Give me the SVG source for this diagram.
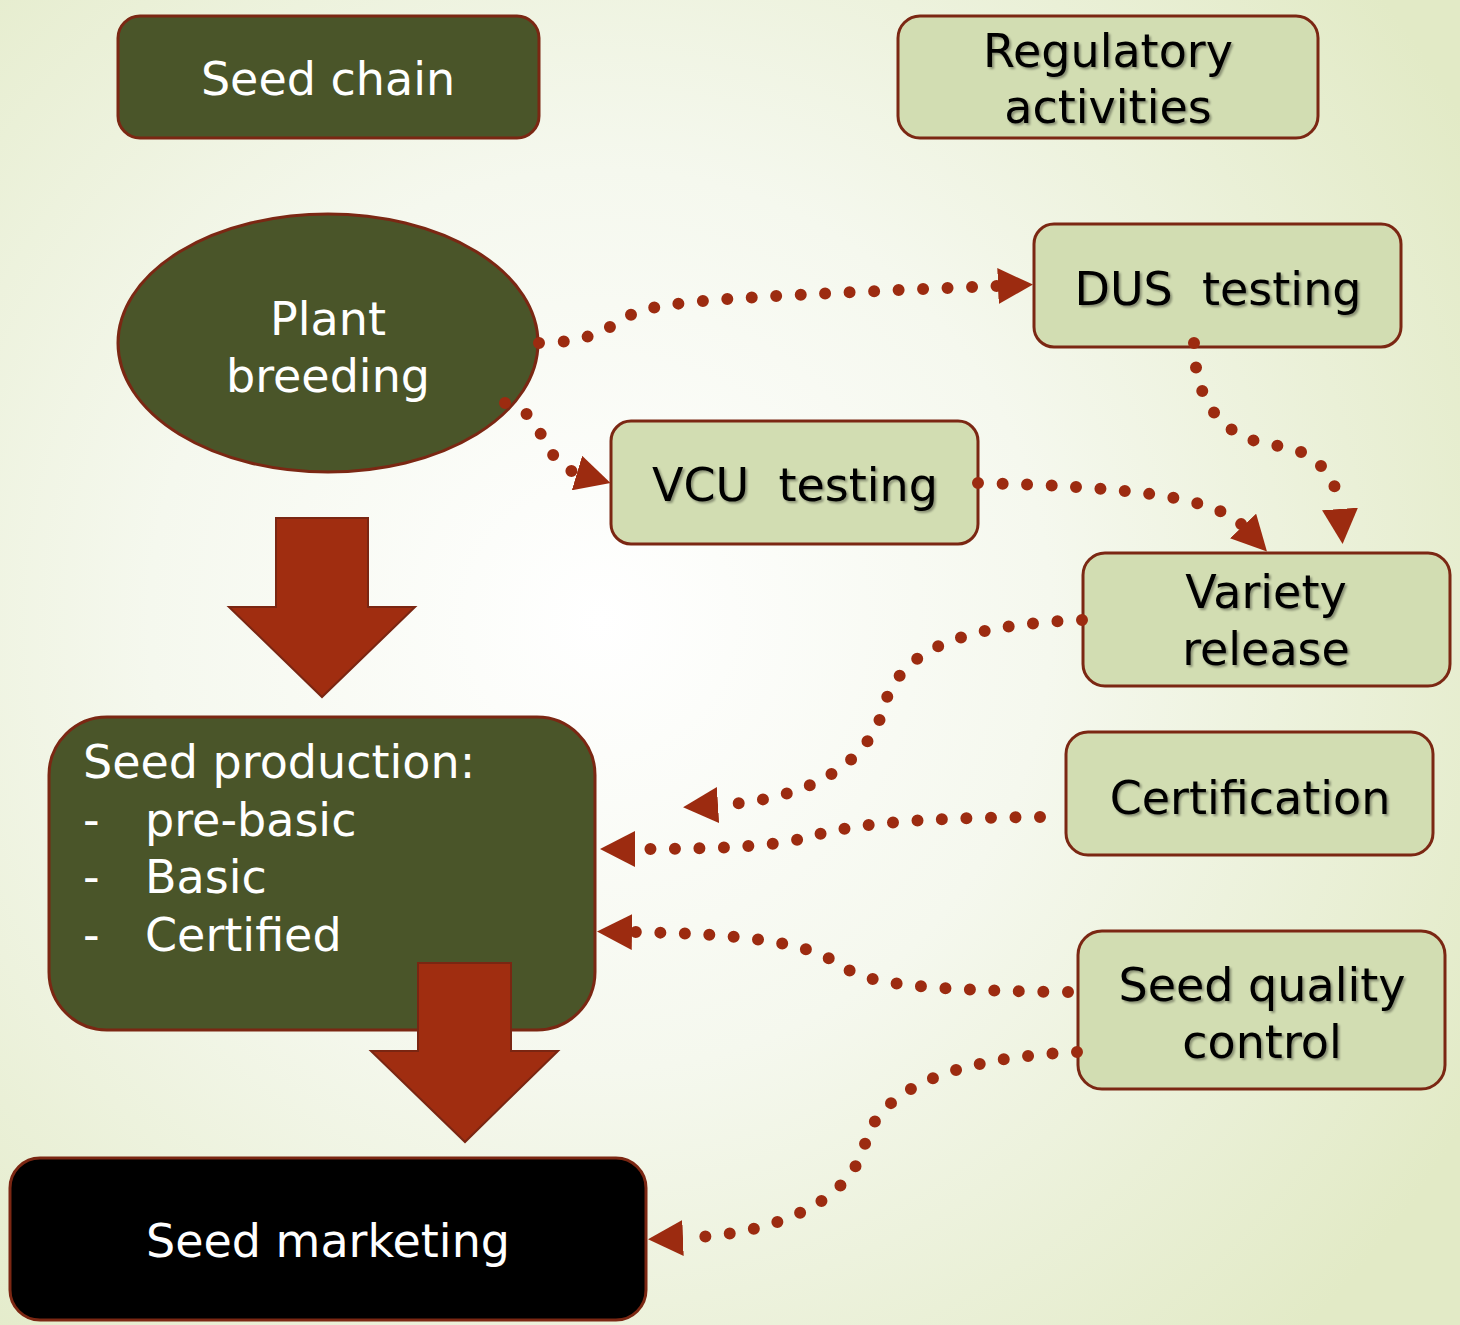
<svg xmlns="http://www.w3.org/2000/svg" width="1460" height="1325" viewBox="0 0 1460 1325">
  <defs>
    <radialGradient id="bg" cx="600" cy="620" r="1000" gradientUnits="userSpaceOnUse">
      <stop offset="0" stop-color="#ffffff"/>
      <stop offset="0.45" stop-color="#f5f8ee"/>
      <stop offset="1" stop-color="#e2eac6"/>
    </radialGradient>
    <filter id="shadow" x="-10%" y="-20%" width="120%" height="140%">
      <feDropShadow dx="2" dy="2" stdDeviation="1.2" flood-color="#000" flood-opacity="0.35"/>
    </filter>
    <marker id="head" markerUnits="userSpaceOnUse" viewBox="0 0 36 36" refX="0" refY="18" markerWidth="36" markerHeight="36" orient="auto">
      <path d="M0,0 L35,18 L0,36 Z" fill="#9c2b10"/>
    </marker>
    <style>
      .dark { fill: #4a5529; stroke: #7b2713; stroke-width: 3; }
      .light { fill: #d2ddb2; stroke: #7b2713; stroke-width: 3; }
      .black { fill: #000; stroke: #7b2713; stroke-width: 3; }
      .big { fill: #a02d10; stroke: #7a2612; stroke-width: 2; }
      text { font-family: "DejaVu Sans", "Liberation Sans", sans-serif; font-size: 46px; }
      .w { fill: #ffffff; }
      .k { fill: #000000; filter: url(#shadow); }
      .c { text-anchor: middle; }
      .dots { fill: none; stroke: #9c2b10; stroke-width: 12; stroke-linecap: round; stroke-dasharray: 0 24.5; marker-end: url(#head); }
    </style>
  </defs>

  <rect width="1460" height="1325" fill="url(#bg)"/>

  <!-- seed chain column -->
  <g id="seed-chain">
    <rect class="dark" x="118" y="16" width="421" height="122" rx="22"/>
    <text class="w c" x="328" y="95">Seed chain</text>
  </g>

  <g id="plant-breeding">
    <ellipse class="dark" cx="328" cy="343" rx="210" ry="129"/>
    <text class="w c" x="328" y="335">Plant</text>
    <text class="w c" x="328" y="392">breeding</text>
  </g>

  <g id="flow-arrow-1">
    <path class="big" d="M276,518 H368 V607 H415 L322,697 L229,607 H276 Z"/>
  </g>

  <g id="seed-production">
    <rect class="dark" x="49" y="717" width="546" height="313" rx="58"/>
    <text class="w" x="83" y="778">Seed production:</text>
    <text class="w" x="83" y="836">-</text>
    <text class="w" x="145" y="836">pre-basic</text>
    <text class="w" x="83" y="893">-</text>
    <text class="w" x="145" y="893">Basic</text>
    <text class="w" x="83" y="951">-</text>
    <text class="w" x="145" y="951">Certified</text>
  </g>

  <g id="flow-arrow-2">
    <path class="big" d="M418,963 H511 V1051 H558 L465,1142 L371,1051 H418 Z"/>
  </g>

  <g id="seed-marketing">
    <rect class="black" x="10" y="1158" width="636" height="162" rx="30"/>
    <text class="w c" x="328" y="1257">Seed marketing</text>
  </g>

  <!-- regulatory column -->
  <g id="regulatory-activities">
    <rect class="light" x="898" y="16" width="420" height="122" rx="22"/>
    <text class="k c" x="1108" y="67">Regulatory</text>
    <text class="k c" x="1108" y="123">activities</text>
  </g>

  <g id="dus-testing">
    <rect class="light" x="1034" y="224" width="367" height="123" rx="20"/>
    <text class="k c" x="1218" y="305" xml:space="preserve">DUS  testing</text>
  </g>

  <g id="vcu-testing">
    <rect class="light" x="611" y="421" width="367" height="123" rx="20"/>
    <text class="k c" x="795" y="501" xml:space="preserve">VCU  testing</text>
  </g>

  <g id="variety-release">
    <rect class="light" x="1083" y="553" width="367" height="133" rx="22"/>
    <text class="k c" x="1266" y="608">Variety</text>
    <text class="k c" x="1266" y="665">release</text>
  </g>

  <g id="certification">
    <rect class="light" x="1066" y="732" width="367" height="123" rx="22"/>
    <text class="k c" x="1250" y="814">Certification</text>
  </g>

  <g id="seed-quality-control">
    <rect class="light" x="1078" y="931" width="367" height="158" rx="24"/>
    <text class="k c" x="1262" y="1001">Seed quality</text>
    <text class="k c" x="1262" y="1058">control</text>
  </g>

  <!-- dotted connectors -->
  <g id="connectors">
    <path class="dots" d="M539,343 C590,342 605,330 625,318 C650,302 700,298 998,286"/>
    <path class="dots" d="M505,403 C545,410 540,462 577,473"/>
    <path class="dots" d="M978,483 C1100,486 1212,493 1243,526"/>
    <path class="dots" d="M1194,343 C1195,420 1240,442 1280,446 C1320,452 1338,482 1340,509"/>
    <path class="dots" d="M1082,620 C960,625 905,650 886,700 C870,770 800,800 718,805"/>
    <path class="dots" d="M1040,817 C900,818 850,825 805,838 C765,848 700,849 635,849"/>
    <path class="dots" d="M1068,992 C905,990 865,982 842,966 C812,945 760,934 632,932"/>
    <path class="dots" d="M1077,1052 C950,1058 882,1090 866,1140 C850,1210 760,1235 683,1238"/>
  </g>
</svg>
